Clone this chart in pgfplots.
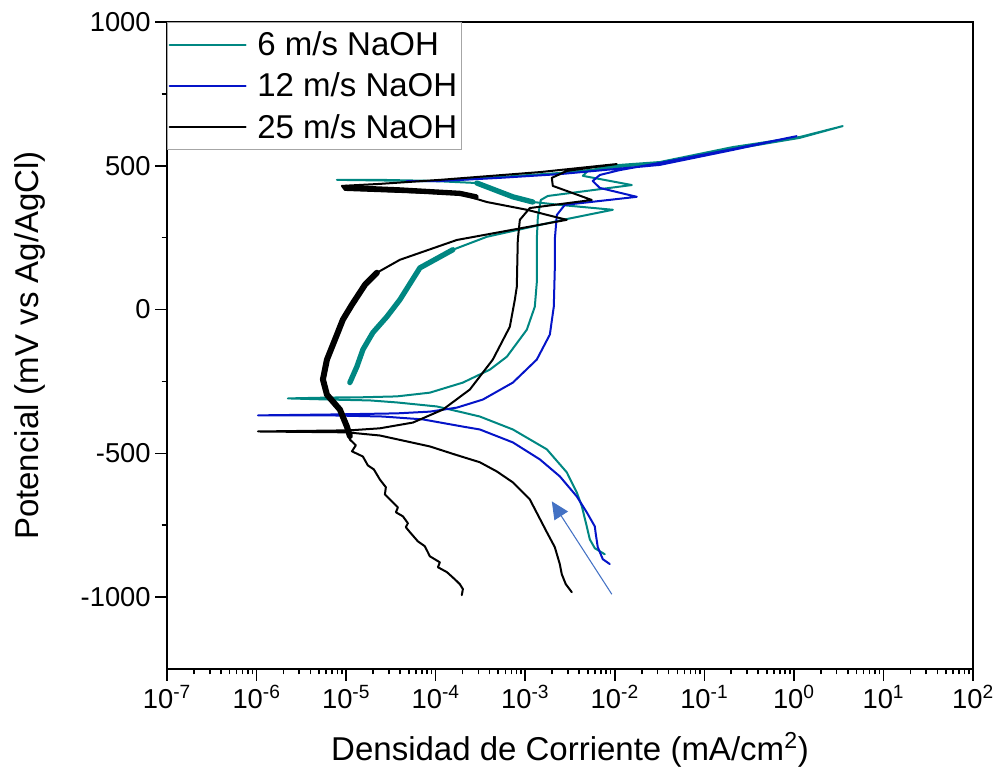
\documentclass[border=0pt]{standalone}
\usepackage{pgfplots}
\pgfplotsset{compat=1.18}
\usepackage{fontspec}
\setmainfont{Liberation Sans}
\usetikzlibrary{calc,arrows.meta}
\definecolor{cteal}{RGB}{0,135,130}
\definecolor{cblue}{RGB}{5,20,200}
\definecolor{carrow}{RGB}{68,114,196}
\begin{document}
\begin{tikzpicture}
\begin{axis}[
  scale only axis, width=604.5pt, height=485.25pt,
  xmin=-7, xmax=2, ymin=-1250, ymax=1000,
  xtick={-7,-6,-5,-4,-3,-2,-1,0,1,2},
  xticklabels={10\textsuperscript{-7},10\textsuperscript{-6},10\textsuperscript{-5},10\textsuperscript{-4},10\textsuperscript{-3},10\textsuperscript{-2},10\textsuperscript{-1},10\textsuperscript{0},10\textsuperscript{1},10\textsuperscript{2}},
  minor xtick={-6.699,-6.523,-6.398,-6.301,-6.222,-6.155,-6.097,-6.046,
   -5.699,-5.523,-5.398,-5.301,-5.222,-5.155,-5.097,-5.046,
   -4.699,-4.523,-4.398,-4.301,-4.222,-4.155,-4.097,-4.046,
   -3.699,-3.523,-3.398,-3.301,-3.222,-3.155,-3.097,-3.046,
   -2.699,-2.523,-2.398,-2.301,-2.222,-2.155,-2.097,-2.046,
   -1.699,-1.523,-1.398,-1.301,-1.222,-1.155,-1.097,-1.046,
   -0.699,-0.523,-0.398,-0.301,-0.222,-0.155,-0.097,-0.046,
   0.301,0.477,0.602,0.699,0.778,0.845,0.903,0.954,
   1.301,1.477,1.602,1.699,1.778,1.845,1.903,1.954},
  ytick={-1000,-500,0,500,1000},
  yticklabels={-1000,-500,0,500,1000},
  minor ytick={-750,-250,250,750},
  tick pos=left, tick align=outside,
  major tick length=8.75pt, minor tick length=4pt,
  every tick/.append style={black, line width=1.2pt},
  axis line style={line width=1.2pt},
  ticklabel style={font=\fontsize{20.5}{24}\selectfont},
  xlabel={Densidad de Corriente (mA/cm\textsuperscript{2})},
  ylabel={Potencial (mV vs Ag/AgCl)},
  label style={font=\fontsize{24.75}{29}\selectfont},
  xlabel style={at={(axis description cs:0.5,-0.1252)}, anchor=center},
  ylabel style={at={(axis description cs:-0.170,0.5)}, anchor=center},
  legend style={at={(0,1)}, anchor=north west, draw=gray!70, line width=0.6pt,
    font=\fontsize{24.75}{28}\selectfont, inner xsep=1pt, inner ysep=5pt, row sep=7.5pt},
  legend cell align=left,
  legend image code/.code={\draw[#1] (0pt,0pt) -- (57pt,0pt); \path (63pt,0pt);},
  every axis plot/.append style={line join=round, line cap=round},
]
% 6 m/s
\addplot[cteal, line width=1.5pt] coordinates {
(-2.112,-851) (-2.223,-830) (-2.279,-799) (-2.313,-754) (-2.368,-684) (-2.424,-636) (-2.536,-566) (-2.759,-486) (-3.138,-417) (-3.507,-372) (-3.696,-358) (-3.987,-337) (-4.433,-323) (-4.734,-316) (-5.181,-313) (-5.650,-309)
(-5.181,-306) (-4.813,-305) (-4.433,-302) (-4.065,-289) (-3.696,-254) (-3.395,-209) (-3.205,-164) (-2.982,-70) (-2.893,10) (-2.871,93) (-2.871,242) (-2.859,322) (-2.826,381) (-2.748,395) (-1.810,433) (-2.357,465) (-2.301,482) (-2.112,496) (-1.944,503) (-1.498,513) (-0.683,565) (0.065,600) (0.545,638)
(0.065,597) (-0.683,558) (-1.498,510) (-2.614,475) (-3.283,461) (-3.953,447) (-4.623,451) (-5.103,451) (-4.623,449) (-3.953,446) (-3.540,440) (-3.138,392) (-2.915,374) (-2.614,364) (-2.022,347) (-2.580,312) (-3.429,253) (-3.808,208) (-4.176,145) (-4.400,34) (-4.545,-25) (-4.701,-80) (-4.812,-139) (-4.879,-198) (-4.958,-254)
};
\addlegendentry{6 m/s NaOH}
% 12 m/s
\addplot[cblue, line width=1.5pt] coordinates {
(-2.056,-885) (-2.134,-868) (-2.190,-826) (-2.212,-781) (-2.223,-754) (-2.313,-705) (-2.424,-650) (-2.614,-580) (-2.837,-521) (-3.138,-462) (-3.507,-417) (-3.696,-407) (-4.143,-382) (-4.589,-372) (-5.181,-368) (-5.984,-368)
(-5.181,-365) (-4.433,-361) (-4.065,-355) (-3.763,-341) (-3.473,-313) (-3.138,-254) (-2.871,-174) (-2.725,-87) (-2.681,10) (-2.670,138) (-2.670,242) (-2.647,329) (-2.558,364) (-1.754,392) (-2.167,423) (-2.246,447) (-2.167,468) (-1.944,485) (-1.498,510) (-0.683,558) (0.031,603)
(-0.683,555) (-1.498,503) (-2.614,471) (-3.283,458) (-3.953,447) (-4.321,447)
};
\addlegendentry{12 m/s NaOH}
% 25 m/s
\addplot[black, line width=1.5pt] coordinates {
(-2.480,-983) (-2.547,-955) (-2.592,-920) (-2.614,-885) (-2.670,-826) (-2.759,-774) (-2.949,-660) (-3.138,-601) (-3.317,-563) (-3.507,-531) (-3.786,-504) (-4.065,-476) (-4.623,-438) (-4.991,-427) (-5.984,-424)
(-4.958,-420) (-4.623,-413) (-4.254,-393) (-3.920,-348) (-3.618,-278) (-3.362,-174) (-3.172,-60) (-3.116,34) (-3.094,79) (-3.083,242) (-3.060,312) (-2.949,353) (-2.257,381) (-2.692,430) (-2.703,458) (-2.536,482) (-1.978,506)
(-2.837,478) (-3.953,451) (-4.623,437) (-5.047,430) (-5.013,416) (-4.400,409) (-3.730,402) (-3.429,374) (-2.982,347) (-2.536,312) (-3.763,242) (-4.400,173) (-4.656,128) (-4.790,86) (-4.935,17) (-5.036,-35) (-5.125,-105) (-5.214,-174) (-5.259,-243) (-5.214,-296) (-5.069,-348) (-4.991,-407) (-4.958,-452)
(-4.891,-472) (-4.935,-493) (-4.813,-511) (-4.757,-542) (-4.690,-556) (-4.623,-591) (-4.556,-618) (-4.567,-643) (-4.511,-660) (-4.422,-688) (-4.444,-705) (-4.366,-719) (-4.310,-743) (-4.333,-757) (-4.288,-774) (-4.199,-806) (-4.121,-823) (-4.087,-844) (-4.065,-858) (-3.953,-879) (-3.975,-896) (-3.875,-913) (-3.786,-938) (-3.730,-955) (-3.696,-972) (-3.708,-993)
};
\addlegendentry{25 m/s NaOH}
% noisy bands
\addplot[cteal, line width=4pt, forget plot] coordinates {(-3.540,440) (-3.138,392) (-2.915,374)};
\addplot[cteal, line width=4pt, forget plot] coordinates {(-3.808,208) (-4.176,145) (-4.400,34) (-4.545,-25) (-4.701,-80) (-4.812,-139) (-4.879,-198) (-4.958,-254)};
\addplot[black, line width=4pt, forget plot] coordinates {(-5.0,424) (-4.400,416) (-3.730,404) (-3.55,392)};
\addplot[black, line width=4.5pt, forget plot] coordinates {(-4.656,128) (-4.790,86) (-4.935,17) (-5.036,-35) (-5.125,-105) (-5.214,-174) (-5.259,-243) (-5.214,-296) (-5.069,-348) (-4.991,-407) (-4.958,-440)};
% arrow
\draw[carrow, line width=0.8pt, -{Triangle[length=13pt,width=12pt]}] (axis cs:-2.033,-990) -- (axis cs:-2.703,-667);
\end{axis}
\pgfresetboundingbox
\path[use as bounding box] ($(current axis.south west)+(-125.25pt,-81.75pt)$) rectangle ($(current axis.north east)+(16.5pt,16.5pt)$);
\end{tikzpicture}
\end{document}
